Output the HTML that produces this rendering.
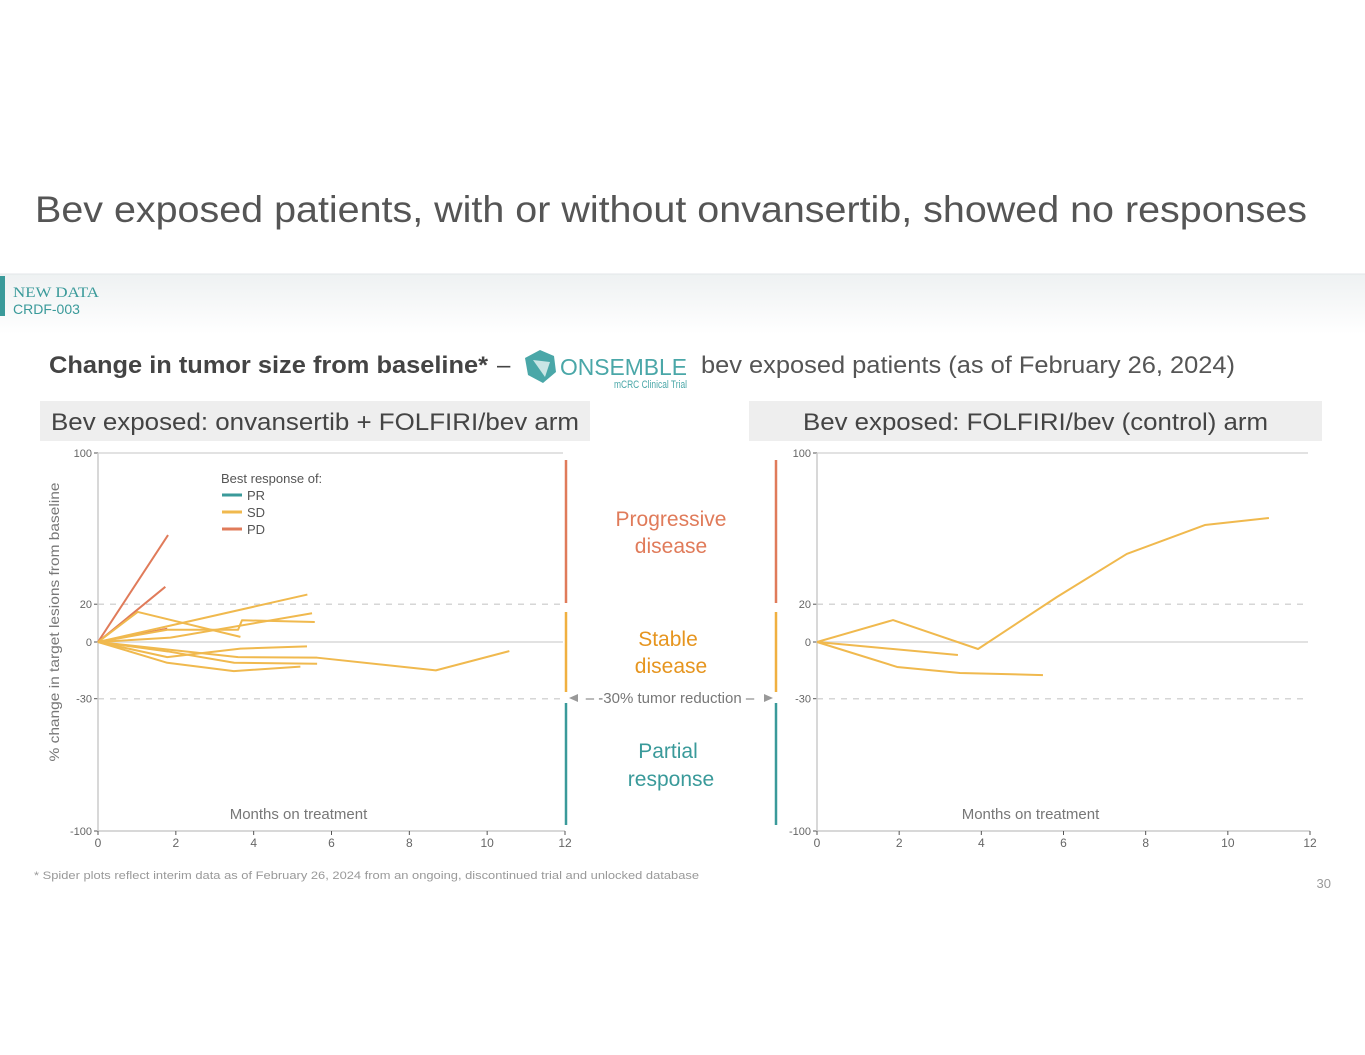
<!DOCTYPE html>
<html><head><meta charset="utf-8"><style>
body{margin:0;background:#fff;width:1365px;height:1055px;overflow:hidden;font-family:"Liberation Sans",sans-serif;}
svg{display:block}
</style></head><body>
<svg id="page" width="1365" height="1055">
<defs><linearGradient id="band" x1="0" y1="0" x2="0" y2="1"><stop offset="0" stop-color="#eef1f2"/><stop offset="1" stop-color="#ffffff"/></linearGradient></defs>
<text x="35" y="222" font-size="37" fill="#555" textLength="1272" lengthAdjust="spacingAndGlyphs">Bev exposed patients, with or without onvansertib, showed no responses</text>
<rect x="0" y="274" width="1365" height="60" fill="url(#band)"/>
<line x1="0" y1="274" x2="1365" y2="274" stroke="#e3e6e8"/>
<rect x="0" y="276" width="5" height="40" fill="#3a9a9a"/>
<text x="13" y="297" font-size="15" fill="#3a9a9a" font-family="Liberation Serif,serif" textLength="86" lengthAdjust="spacingAndGlyphs">NEW DATA</text>
<text x="13" y="314" font-size="14" fill="#3a9a9a">CRDF-003</text>
<text x="49" y="373" font-size="24" font-weight="bold" fill="#444" textLength="439" lengthAdjust="spacingAndGlyphs">Change in tumor size from baseline*</text>
<text x="497" y="373" font-size="24" fill="#444">–</text>
<g>
<polygon points="540,350 554,356 556,372 543,383 528,375 525,358" fill="#4aa7a8"/>
<polygon points="533,360 550,362 545,377" fill="#fff" opacity="0.7"/>
<text x="560" y="375" font-size="23" fill="#4aa7a8" textLength="127" lengthAdjust="spacingAndGlyphs">ONSEMBLE</text>
<text x="614" y="388" font-size="11" fill="#4aa7a8" textLength="73" lengthAdjust="spacingAndGlyphs">mCRC Clinical Trial</text>
</g>
<text x="701" y="373" font-size="24" fill="#555" textLength="534" lengthAdjust="spacingAndGlyphs">bev exposed patients (as of February 26, 2024)</text>
<rect x="40" y="401" width="550" height="40" fill="#eeeeee"/>
<text x="51" y="430" font-size="24" fill="#444" textLength="528" lengthAdjust="spacingAndGlyphs">Bev exposed: onvansertib + FOLFIRI/bev arm</text>
<rect x="749" y="401" width="573" height="40" fill="#eeeeee"/>
<text x="803" y="430" font-size="24" fill="#444" textLength="465" lengthAdjust="spacingAndGlyphs">Bev exposed: FOLFIRI/bev (control) arm</text>
<text transform="translate(59,622) rotate(-90)" text-anchor="middle" font-size="14" fill="#777" textLength="279" lengthAdjust="spacingAndGlyphs">% change in target lesions from baseline</text>
<g id="left"></g>
<g id="right"></g>
<g>
<line x1="566" y1="460" x2="566" y2="603" stroke="#e07b5a" stroke-width="2.5"/>
<line x1="566" y1="612" x2="566" y2="692" stroke="#f0b040" stroke-width="2.5"/>
<line x1="566" y1="703" x2="566" y2="825" stroke="#3a9a9a" stroke-width="2.5"/>
<line x1="776" y1="460" x2="776" y2="603" stroke="#e07b5a" stroke-width="2.5"/>
<line x1="776" y1="612" x2="776" y2="692" stroke="#f0b040" stroke-width="2.5"/>
<line x1="776" y1="703" x2="776" y2="825" stroke="#3a9a9a" stroke-width="2.5"/>
<text x="671" y="526" text-anchor="middle" font-size="21" fill="#e07b5a">Progressive</text>
<text x="671" y="553" text-anchor="middle" font-size="21" fill="#e07b5a">disease</text>
<text x="668" y="646" text-anchor="middle" font-size="21" fill="#e6951f">Stable</text>
<text x="671" y="673" text-anchor="middle" font-size="21" fill="#e6951f">disease</text>
<text x="668" y="758" text-anchor="middle" font-size="21" fill="#3a9a9a">Partial</text>
<text x="671" y="786" text-anchor="middle" font-size="21" fill="#3a9a9a">response</text>
<polygon points="569,698 578,694 578,702" fill="#999"/>
<polygon points="773,698 764,694 764,702" fill="#999"/>
<text x="670" y="703" text-anchor="middle" font-size="15" fill="#777">– -30% tumor reduction –</text>
</g>
<text x="34" y="879" font-size="11" fill="#999" textLength="665" lengthAdjust="spacingAndGlyphs">*  Spider plots reflect interim data as of February 26, 2024 from an ongoing, discontinued trial and unlocked database</text>
<text x="1331" y="888" text-anchor="end" font-size="13" fill="#999">30</text>
</svg>
<script>
const yTicks=[100,20,0,-30,-100];
const xTicks=[0,2,4,6,8,10,12];
const leftCategories=["PD","PD","PD","SD","SD","SD","SD","SD","SD","SD","SD"];
const leftX=[[0,1.8],[0,1.73],[0,1.78],[0,1.02,3.66],[0,5.38],[0,1.86,5.5],[0,1.78,3.6,3.7,5.57],[0,1.78,3.66,5.37],[0,3.6,5.63,8.68,10.57],[0,1.78,3.49,5.2],[0,1.8,3.5,5.63]];
const leftY=[[0,56.6],[0,29.2],[0,7],[0,15.9,2.7],[0,25.1],[0,2.3,15.2],[0,6.5,6.5,11.5,10.6],[0,-8,-3.5,-2.3],[0,-8,-8.3,-15,-4.8],[0,-11,-15.4,-13],[0,-5,-11,-11.5]];
const rightCategories=["SD","SD","SD"];
const rightX=[[0,1.85,3.92,5.84,7.54,9.44,11.0],[0,3.43],[0,1.95,3.48,5.5]];
const rightY=[[0,11.6,-3.7,23.8,46.6,61.9,65.6],[0,-6.9],[0,-13.2,-16.4,-17.5]];
const colors={PD:"#e07b5a",SD:"#f0b94e",PR:"#3a9a9a"};
const NS="http://www.w3.org/2000/svg";
function mk(g,tag,attrs){const e=document.createElementNS(NS,tag);for(const k in attrs)e.setAttribute(k,attrs[k]);g.appendChild(e);return e;}
function yScale(v){return 642-v*1.89;}
function drawChart(id,x0,x1,cats,xs,ys,legend){
 const g=document.getElementById(id);
 const xs_=m=>x0+(x1-x0)*m/12;
 yTicks.forEach(t=>{
  if(t===100||t===0){const l=mk(g,'line',{x1:x0,x2:x1-2,y1:yScale(t),y2:yScale(t),stroke:'#e2e2e2','stroke-width':2});}
  if(t===20||t===-30){const l=mk(g,'line',{x1:x0,x2:x1-2,y1:yScale(t),y2:yScale(t),stroke:'#d6d6d6','stroke-width':1.5,'stroke-dasharray':'6,6'});}
  mk(g,'line',{x1:x0-4,x2:x0,y1:yScale(t),y2:yScale(t),stroke:'#555'});
  const tx=mk(g,'text',{x:x0-6,y:yScale(t)+4,'text-anchor':'end','font-size':11,fill:'#666'});
  
  
  tx.textContent=t;
 });
 mk(g,'line',{x1:x0,x2:x0,y1:yScale(100),y2:yScale(-100),stroke:'#ccc','stroke-width':1.5});
 mk(g,'line',{x1:x0,x2:x1,y1:yScale(-100),y2:yScale(-100),stroke:'#ccc','stroke-width':1.5});
 xTicks.forEach(t=>{
  mk(g,'line',{x1:xs_(t),x2:xs_(t),y1:yScale(-100),y2:yScale(-100)+4,stroke:'#555'});
  const tx=mk(g,'text',{x:xs_(t),y:yScale(-100)+16,'text-anchor':'middle','font-size':12,fill:'#666'});
  
  
  tx.textContent=t;
 });
 const at=mk(g,'text',{x:(x0+x1)/2-33,y:819,'text-anchor':'middle','font-size':15,fill:'#777'});
 
 
 at.textContent='Months on treatment';
 cats.forEach((c,i)=>{
  const pts=xs[i].map((m,j)=>xs_(m)+','+yScale(ys[i][j])).join(' ');
  const p=mk(g,'polyline',{points:pts,fill:'none',stroke:colors[c],'stroke-width':2,'stroke-linejoin':'round'});
  
  
 });
 if(legend){
  const t=mk(g,'text',{x:221,y:483,'font-size':13,fill:'#555'});
  
  
  t.textContent='Best response of:';
  ['PR','SD','PD'].forEach((k,i)=>{
   mk(g,'line',{x1:222,x2:242,y1:495+i*17,y2:495+i*17,stroke:colors[k],'stroke-width':3});
   const lt=mk(g,'text',{x:247,y:500+i*17,'font-size':13,fill:'#555'});
   
   
   lt.textContent=k;
  });
 }
}
drawChart('left',98,565,leftCategories,leftX,leftY,true);
drawChart('right',817,1310,rightCategories,rightX,rightY,false);
</script>
</body></html>
